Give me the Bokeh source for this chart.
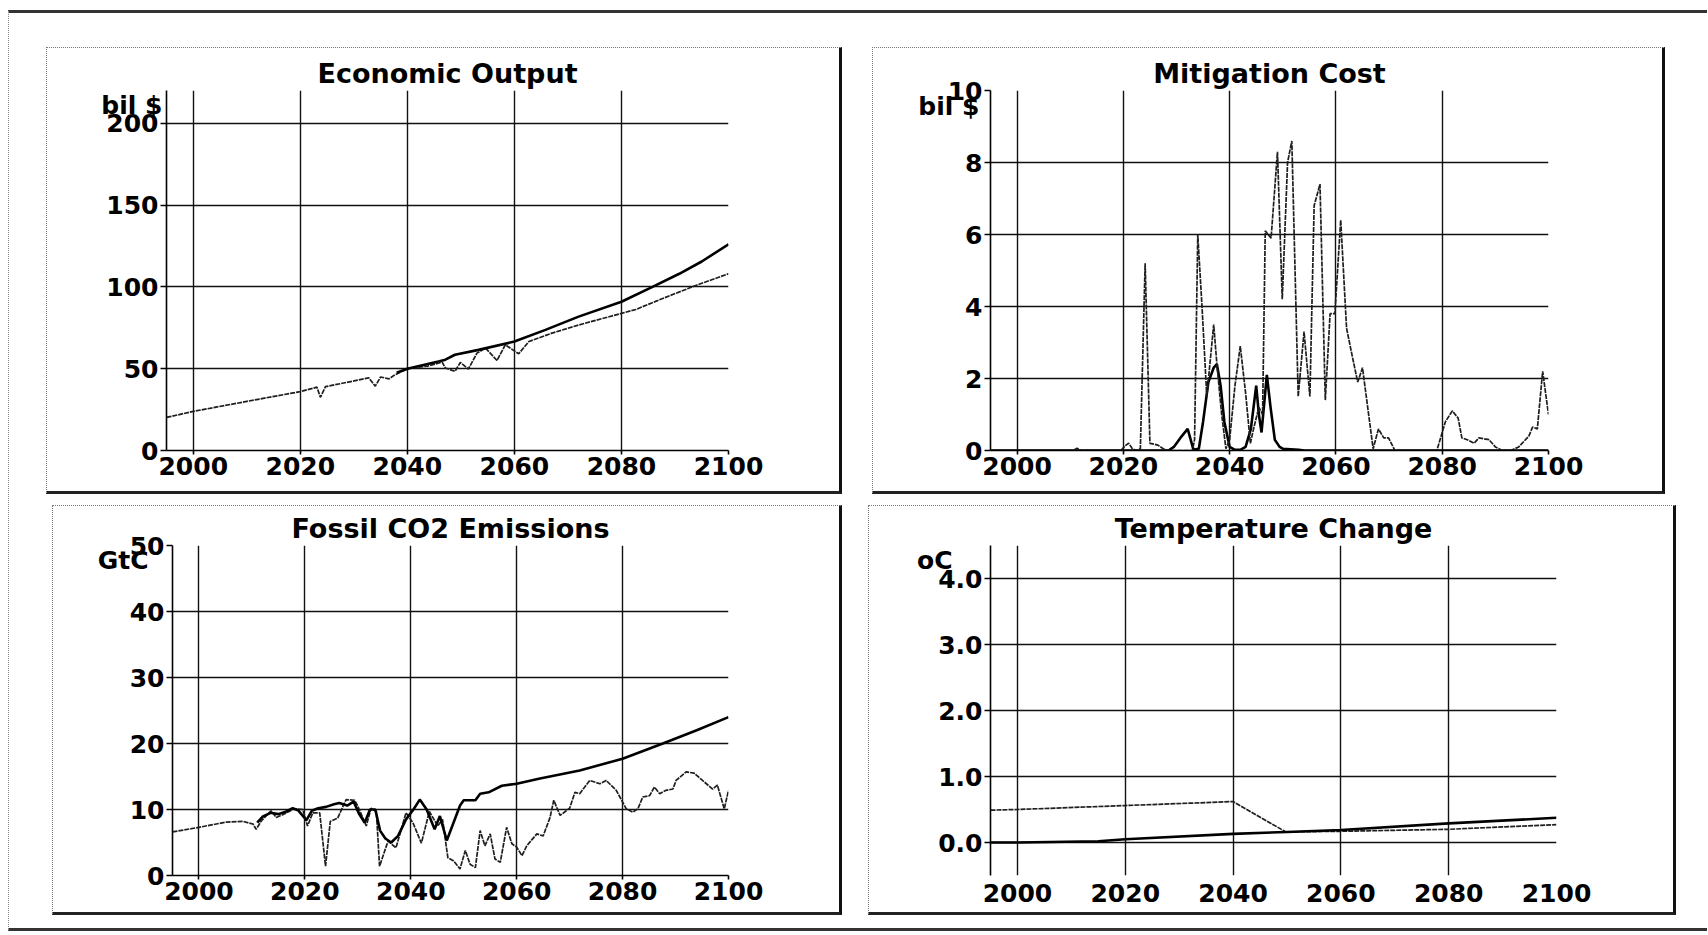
from bokeh.plotting import figure
from bokeh.layouts import column, row
from bokeh.models import Spacer, FixedTicker, Range1d, PrintfTickFormatter, LinearAxis
from bokeh.embed import file_html
from bokeh.resources import INLINE

FONT = "DejaVu Sans"

# ---------------- data ----------------
year_ticks = [2000, 2020, 2040, 2060, 2080, 2100]

# Economic Output (bil $)
econ_base_years = [2038, 2040, 2042, 2044, 2046, 2047.1, 2048.9, 2053.3, 2060, 2065.8, 2072, 2080, 2085.8, 2090.8, 2095, 2100]
econ_base = [47.5, 50, 51.5, 53, 54.5, 55.5, 58.5, 61.5, 66.6, 73.7, 81.8, 90.9, 100, 108, 115.5, 126]
econ_ctrl_years = [1995, 2000, 2010, 2020, 2023.1, 2023.75, 2024.7, 2030, 2032.8, 2034, 2035, 2036.6, 2037.5, 2040,
                   2043.75, 2046.5, 2047.1, 2048.9, 2049.9, 2051.4, 2053, 2054.6, 2056.75, 2058.3, 2060.8, 2062.7,
                   2067, 2072, 2080, 2082.7, 2087.7, 2094, 2100]
econ_ctrl = [20.2, 23.9, 30, 36, 38.7, 32.5, 39, 42.5, 44.4, 39.3, 44.9, 43.8, 45.9, 50,
             51.6, 54, 50.4, 48.4, 53.8, 49.8, 59.5, 62.6, 55, 64.6, 59.1, 66.6,
             71.7, 76.7, 83.8, 86.2, 92.9, 101, 108]

# Mitigation Cost (bil $)
mit_a_years = [1995, 2028.5, 2029.5, 2031, 2032.1, 2033.2, 2034.2, 2035, 2036, 2037, 2037.6, 2038.3, 2039, 2040,
               2041, 2042, 2043, 2044, 2045, 2045.5, 2046, 2047, 2047.7, 2048.5, 2049.4, 2050, 2053, 2054, 2100]
mit_a = [0, 0, 0.1, 0.4, 0.6, 0.02, 0.05, 0.8, 1.9, 2.3, 2.4, 1.8, 0.8, 0.1,
         0.02, 0.02, 0.1, 0.6, 1.8, 1.0, 0.5, 2.1, 1.2, 0.3, 0.1, 0.05, 0.02, 0, 0]
mit_b_years = [1995, 2010.5, 2011.3, 2012, 2019.5, 2020.5, 2021, 2021.7, 2022.5, 2023.2, 2024.1, 2025, 2026.5, 2027.5,
               2028.5, 2033, 2033.4, 2034, 2034.8, 2035.7, 2037, 2037.6, 2038.5, 2039.3, 2040, 2041, 2042, 2043,
               2043.9, 2044.5, 2045.5, 2046.2, 2046.7, 2047.8, 2049, 2049.9, 2050.9, 2051.7, 2052.9, 2054, 2055.1,
               2055.9, 2057, 2058, 2058.9, 2059.8, 2060.9, 2062, 2063.1, 2064.1, 2065, 2067, 2068, 2069, 2069.9,
               2071.1, 2079, 2080.6, 2081.9, 2083, 2083.7, 2084.7, 2086, 2086.9, 2088.8, 2090, 2091.3, 2092.9,
               2094.4, 2096.3, 2097, 2097.9, 2098.9, 2100]
mit_b = [0, 0, 0.06, 0, 0, 0.15, 0.2, 0.05, 0, 0.05, 5.2, 0.2, 0.15, 0.05,
         0, 0, 0.3, 6.0, 4.0, 1.5, 3.5, 2.4, 1.0, 0.05, 0.3, 1.8, 2.9, 1.6,
         0.2, 0.6, 1.2, 1.0, 6.1, 5.9, 8.3, 4.2, 8.0, 8.6, 1.5, 3.3, 1.5,
         6.8, 7.4, 1.4, 3.8, 3.8, 6.4, 3.4, 2.6, 1.9, 2.3, 0.05, 0.6, 0.35, 0.35,
         0, 0, 0.8, 1.1, 0.9, 0.35, 0.3, 0.2, 0.35, 0.3, 0.1, 0, 0,
         0.1, 0.4, 0.65, 0.6, 2.2, 1.0]

# Fossil CO2 Emissions (GtC)
co2_base_years = [2011, 2012, 2013.5, 2015, 2016.5, 2017.7, 2018.7, 2020.3, 2021.3, 2022.5, 2024, 2025.5, 2026.5,
                  2028, 2029.2, 2030.2, 2031.3, 2032.3, 2033.3, 2034.2, 2035.2, 2036.3, 2037.6, 2039.1, 2040.5,
                  2041.7, 2043, 2044.5, 2045.5, 2046.8, 2049.3, 2050, 2052.2, 2053.1, 2054.7, 2057.2, 2060,
                  2064.4, 2071.9, 2080, 2087.6, 2094, 2100]
co2_base = [8.0, 8.9, 9.5, 9.3, 9.7, 10.2, 9.9, 8.4, 9.8, 10.2, 10.4, 10.8, 11.0,
            10.6, 11.2, 9.4, 8.0, 10.0, 10.0, 6.8, 5.6, 5.0, 6.0, 8.5, 10.0,
            11.5, 10.0, 7.0, 9.0, 5.3, 10.6, 11.4, 11.4, 12.4, 12.6, 13.6, 13.9,
            14.7, 15.9, 17.7, 20.0, 22.0, 24.0]
co2_ctrl_years = [1995, 2000, 2005.2, 2008.3, 2010.2, 2010.8, 2011.8, 2013.6, 2014.6, 2015.8, 2018, 2019.6, 2020.5,
                  2021.5, 2022.8, 2023.9, 2024.8, 2026.2, 2027.2, 2027.8, 2029.4, 2030, 2031.6, 2032.5, 2033.5,
                  2034.1, 2035.7, 2037.2, 2039.1, 2040.4, 2042, 2043.5, 2045.1, 2046, 2047, 2048.1, 2049.3,
                  2050.3, 2051.2, 2052.2, 2053.1, 2054, 2055, 2055.9, 2056.9, 2058.1, 2059.1, 2060, 2061,
                  2061.9, 2063.8, 2065, 2066.3, 2067, 2068.2, 2070, 2071, 2071.9, 2073.8, 2075.7, 2076.9,
                  2078.8, 2080.7, 2081.9, 2082.9, 2083.8, 2085.1, 2086, 2087, 2088.2, 2089.5, 2090.1, 2092,
                  2093.5, 2095.1, 2097, 2097.9, 2099.2, 2100]
co2_ctrl = [6.6, 7.3, 8.1, 8.2, 7.8, 7.0, 8.3, 9.8, 8.8, 9.2, 10.1, 10.0, 7.5,
            9.5, 9.5, 1.4, 8.2, 8.7, 10.5, 11.5, 11.4, 10.5, 7.5, 10.2, 9.7,
            1.4, 5.2, 4.2, 9.5, 8.0, 4.9, 9.7, 7.5, 8.5, 2.7, 2.2, 1.0,
            3.8, 1.7, 1.2, 6.8, 4.5, 6.3, 2.5, 2.0, 7.3, 4.8, 4.3, 3.0,
            4.5, 6.3, 6.0, 8.8, 11.4, 9.1, 10.2, 12.6, 12.4, 14.4, 13.9, 14.4,
            12.9, 10.1, 9.6, 10.1, 11.9, 12.1, 13.4, 12.4, 12.9, 13.1, 14.4, 15.7,
            15.5, 14.4, 13.1, 13.7, 10.1, 12.9]

# Temperature Change (oC)
temp_base_years = [1995, 2000, 2015, 2020, 2040, 2050, 2060, 2080, 2100]
temp_base = [0, 0, 0.02, 0.05, 0.13, 0.16, 0.19, 0.29, 0.375]
temp_ctrl_years = [1995, 2000, 2020, 2040, 2049.8, 2060, 2080, 2100]
temp_ctrl = [0.49, 0.5, 0.56, 0.62, 0.16, 0.17, 0.2, 0.27]

# ---------------- styling helpers ----------------
PANEL_STYLE = {
    "border-top": "1px dotted #777777",
    "border-left": "1px dotted #777777",
    "border-right": "3px solid #111111",
    "border-bottom": "3px solid #222222",
    "box-sizing": "border-box",
}


def panel(title, w, h, mb, yr, yticks, unit, unit_y, unit_standoff, yfmt=None, bottom_axis=True):
    p = figure(width=w, height=h, x_range=Range1d(1995, 2100), y_range=Range1d(*yr),
               output_backend="svg", toolbar_location=None,
               min_border_left=mb[0], min_border_right=mb[1],
               min_border_top=mb[2], min_border_bottom=mb[3])
    p.title.text = title
    p.title.align = "center"
    p.title.text_font = FONT
    p.title.text_font_size = "27px"
    p.title.text_font_style = "bold"
    p.title.text_color = "#000000"
    p.title.standoff = 4
    p.outline_line_color = None
    p.background_fill_color = "white"
    p.border_fill_color = "white"

    p.xaxis.ticker = FixedTicker(ticks=year_ticks)
    p.yaxis.ticker = FixedTicker(ticks=yticks)
    if yfmt:
        p.yaxis.formatter = PrintfTickFormatter(format=yfmt)
    for ax in p.axis:
        ax.major_label_text_font = FONT
        ax.major_label_text_font_size = "25px"
        ax.major_label_text_font_style = "bold"
        ax.major_label_text_color = "#000000"
        ax.axis_line_color = "#000000"
        ax.axis_line_width = 1.6
        ax.major_tick_line_color = "#000000"
        ax.major_tick_line_width = 1.6
        ax.major_tick_in = 0
        ax.minor_tick_line_color = None
    p.yaxis.major_tick_out = 6
    p.yaxis.major_label_standoff = 2
    p.xaxis.major_tick_out = 4
    p.xaxis.major_label_standoff = 2
    if not bottom_axis:
        p.xaxis.axis_line_color = None
        p.xaxis.major_tick_line_color = None
        p.xaxis.major_tick_out = 0
        p.xaxis.major_label_standoff = 8
    p.grid.grid_line_color = "#111111"
    p.grid.grid_line_width = 1.4

    # unit label drawn as an extra (tick-less) left axis so it sits outside the frame
    unit_axis = LinearAxis(ticker=FixedTicker(ticks=[unit_y]),
                           major_label_overrides={unit_y: unit},
                           axis_line_color=None, major_tick_line_color=None,
                           minor_tick_line_color=None, major_tick_in=0, major_tick_out=0,
                           major_label_standoff=unit_standoff,
                           major_label_text_font=FONT, major_label_text_font_size="25px",
                           major_label_text_font_style="bold", major_label_text_color="#000000")
    p.add_layout(unit_axis, "left")
    p.styles = PANEL_STYLE
    return p


THICK = dict(line_color="#000000", line_width=2.6)
THIN = dict(line_color="#1e1e1e", line_width=1.7, line_dash="5 1")

p1 = panel("Economic Output", 796, 447, (119, 115, 42, 45), (0, 220), [0, 50, 100, 150, 200],
           "bil $", 210.8, -59)
p1.line(econ_ctrl_years, econ_ctrl, **THIN)
p1.line(econ_base_years, econ_base, **THICK)

p2 = panel("Mitigation Cost", 793, 447, (117, 118, 42, 42), (0, 10), [0, 2, 4, 6, 8, 10],
           "bil $", 9.56, -35)
p2.line(mit_a_years, mit_a, **THICK)
p2.line(mit_b_years, mit_b, **THIN)

p3 = panel("Fossil CO2 Emissions", 790, 410, (119, 115, 39, 40), (0, 50), [0, 10, 20, 30, 40, 50],
           "GtC", 47.7, -22)
p3.line(co2_ctrl_years, co2_ctrl, **THIN)
p3.line(co2_base_years, co2_base, **THICK)

p4 = panel("Temperature Change", 808, 410, (121, 121, 39, 41), (-0.5, 4.5), [0, 1, 2, 3, 4],
           "oC", 4.27, -17, yfmt="%.1f", bottom_axis=False)
p4.line(temp_ctrl_years, temp_ctrl, **THIN)
p4.line(temp_base_years, temp_base, **THICK)

row1 = row(Spacer(width=37), p1, Spacer(width=30), p2)
row2 = row(Spacer(width=43), p3, Spacer(width=26), p4)
layout = column(Spacer(height=34), row1, Spacer(height=11), row2, Spacer(height=13),
                width=1699, margin=(10, 0, 0, 8),
                styles={"border-top": "3px solid #333333", "border-left": "1px dotted #888888",
                        "border-bottom": "3px solid #333333"})

open("out.html", "w").write(file_html(layout, INLINE))
